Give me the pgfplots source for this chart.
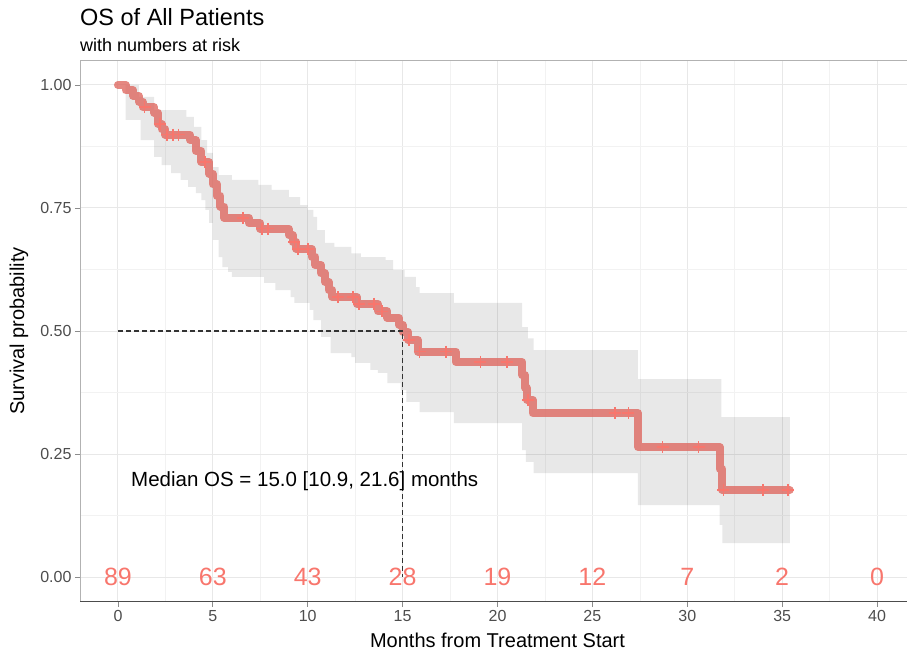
\documentclass[border=0pt]{standalone}
\usepackage{fontspec}
\setmainfont{Liberation Sans}
\usepackage{pgfplots}
\pgfplotsset{compat=1.18}
\definecolor{kmred}{HTML}{F8766D}
\definecolor{txtgray}{HTML}{4D4D4D}

% Kaplan-Meier estimate (value holds to the right of each time)
\pgfplotstableread{
t s
0 1.000
0.4 0.989
0.8 0.978
1.1 0.966
1.3 0.955
1.9 0.944
2.1 0.921
2.3 0.910
2.5 0.899
3.8 0.888
4.1 0.866
4.4 0.843
4.8 0.820
5.0 0.798
5.2 0.775
5.4 0.753
5.6 0.730
6.9 0.719
7.5 0.708
9.0 0.695
9.2 0.681
9.4 0.667
10.2 0.651
10.4 0.634
10.7 0.617
10.9 0.600
11.1 0.583
11.3 0.569
12.6 0.555
13.7 0.540
14.2 0.527
14.8 0.513
15.0 0.498
15.3 0.482
15.8 0.458
17.8 0.437
21.3 0.410
21.45 0.385
21.55 0.360
21.85 0.333
27.4 0.264
31.7 0.220
31.85 0.177
35.4 0.177
}\kmcurve

% censored observations
\pgfplotstableread{
t s
1.4 0.955
2.2 0.921
2.6 0.899
2.9 0.899
3.2 0.899
4.6 0.843
6.6 0.730
7.6 0.708
7.9 0.708
9.3 0.681
9.5 0.667
10.0 0.667
11.6 0.569
12.4 0.569
12.7 0.555
13.5 0.555
13.9 0.540
15.35 0.482
15.9 0.458
17.3 0.458
19.1 0.437
20.5 0.437
21.6 0.360
26.2 0.333
26.9 0.333
28.7 0.264
30.6 0.264
31.9 0.177
34.0 0.177
35.3 0.177
}\kmcens

% 95% band: upper limit forwards, then lower limit backwards
\pgfplotstableread{
t s
0 1.000
1.1 0.976
1.9 0.949
3.6 0.935
4.0 0.915
4.4 0.888
4.7 0.862
5.0 0.833
5.3 0.817
6.0 0.807
7.4 0.797
8.1 0.787
9.0 0.772
9.6 0.756
10.0 0.746
10.3 0.732
10.5 0.705
10.9 0.679
11.4 0.671
12.3 0.658
12.8 0.650
14.1 0.644
14.5 0.624
15.1 0.610
15.7 0.589
15.9 0.577
17.7 0.557
21.3 0.508
21.6 0.485
21.9 0.461
27.4 0.402
31.8 0.325
35.4 0.325
35.4 0.069
31.85 0.106
31.7 0.146
27.4 0.211
21.9 0.234
21.5 0.258
21.3 0.313
17.7 0.335
15.9 0.356
15.2 0.380
14.9 0.394
14.2 0.415
13.7 0.421
13.3 0.435
12.5 0.447
12.3 0.455
11.2 0.488
10.7 0.522
10.3 0.543
10.1 0.557
9.3 0.569
9.1 0.583
8.3 0.598
7.7 0.610
6.0 0.620
5.8 0.630
5.5 0.650
5.3 0.685
5.0 0.720
4.8 0.746
4.6 0.766
4.4 0.780
4.1 0.793
3.7 0.807
3.3 0.821
2.8 0.837
2.3 0.854
1.9 0.888
1.2 0.929
0.4 1.000
0 1.000
}\kmband

% numbers at risk
\pgfplotstableread{
t y n
0 0 89
5 0 63
10 0 43
15 0 28
20 0 19
25 0 12
30 0 7
35 0 2
40 0 0
}\atrisk

\begin{document}
\begin{tikzpicture}
\path[use as bounding box] (-80pt,-52.4pt) rectangle (827pt,601.6pt);
\begin{axis}[
  at={(0pt,0pt)}, anchor=south west,
  scale only axis, width=835pt, height=541.2pt,
  xmin=-2, xmax=42, ymin=-0.05, ymax=1.05,
  xtick={0,5,...,40}, ytick={0,0.25,0.5,0.75,1},
  minor x tick num=1, minor y tick num=1,
  grid=both,
  major grid style={draw=black!9, line width=1pt},
  minor grid style={draw=black!5, line width=0.6pt},
  axis line style={draw=black!30, line width=0.9pt},
  tick align=outside, major tick length=5pt, minor tick length=0pt,
  tick style={draw=black!45, line width=0.9pt},
  xtick pos=bottom, ytick pos=left,
  /pgf/number format/assume math mode=true,
  yticklabel style={/pgf/number format/.cd, fixed, fixed zerofill, precision=2},
  ticklabel style={font=\fontsize{16}{18}\selectfont, text=txtgray},
  xlabel={Months from Treatment Start},
  ylabel={Survival probability},
  label style={font=\fontsize{20}{22}\selectfont},
  xlabel style={at={(axis description cs:0.5,-0.0857)}, anchor=base},
  ylabel style={at={(axis description cs:-0.0731,0.5)}, anchor=center},
  clip=false,
]
\addplot[const plot, fill=black, fill opacity=0.09, draw=none] table[x=t, y=s] {\kmband};

\addplot[const plot, draw=kmred!90!black, draw opacity=0.8, line width=8pt, line join=round, line cap=round]
  table[x=t, y=s] {\kmcurve};
\addplot[only marks, mark=+, mark size=6pt, kmred, line width=1.6pt]
  table[x=t, y=s] {\kmcens};

\addplot[draw=black!80, line width=1.5pt, dash pattern=on 5pt off 3pt]
  coordinates {(0,0.5) (15,0.5) (15,0)};

\addplot[only marks, mark size=0pt, nodes near coords, point meta=explicit symbolic,
  nodes near coords style={anchor=center, inner sep=0pt, text=kmred, font=\fontsize{25}{25}\selectfont}]
  table[x=t, y=y, meta=n] {\atrisk};

\node[anchor=west, inner sep=0pt, font=\fontsize{20.5}{22}\selectfont]
  at (axis cs:0.69,0.195) {Median OS = 15.0 [10.9, 21.6] months};
\end{axis}
\draw[black!70, line width=1.6pt] (0pt,0pt) -- (835pt,0pt);
\node[anchor=base west, inner sep=0pt, font=\fontsize{23.5}{26}\selectfont] at (0pt,575.6pt) {OS of All Patients};
\node[anchor=base west, inner sep=0pt, font=\fontsize{18}{20}\selectfont] at (0pt,549.9pt) {with numbers at risk};
\end{tikzpicture}
\end{document}
